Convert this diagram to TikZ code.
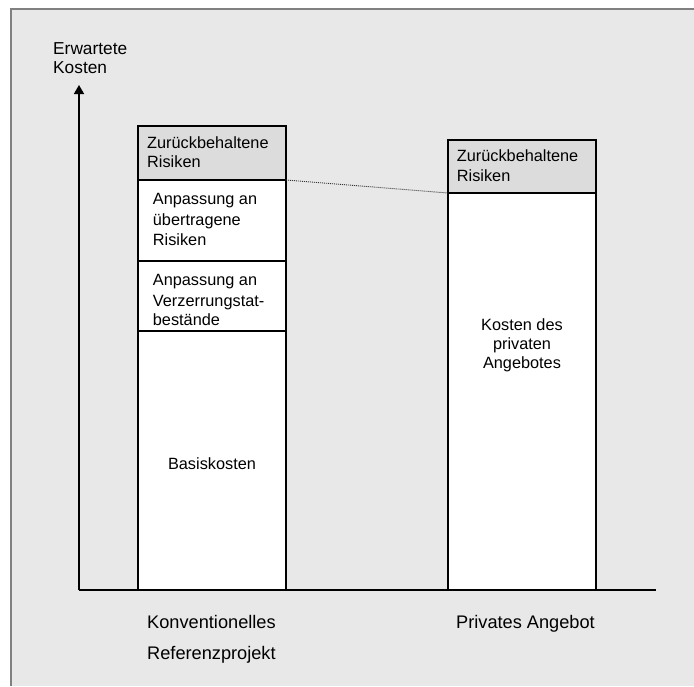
\documentclass[tikz,border=0pt]{standalone}
\usepackage{fontspec}
\setmainfont{Liberation Sans}
\usetikzlibrary{arrows.meta}
\definecolor{bggray}{RGB}{232,232,232}
\definecolor{cellgray}{RGB}{220,220,220}
\definecolor{framegray}{RGB}{128,128,128}
\begin{document}
\begin{tikzpicture}[x=1pt,y=-1pt,
  cell/.style={draw=black, line width=1.3pt, rectangle, inner sep=0pt, outer sep=0pt,
    minimum width=148pt, anchor=north west, fill=white},
  txt/.style={inner sep=0pt, font=\fontsize{16.3}{19}\selectfont, anchor=base west},
  ctxt/.style={inner sep=0pt, font=\fontsize{16.3}{19}\selectfont, anchor=base},
  lbl/.style={inner sep=0pt, font=\fontsize{17.3}{20}\selectfont, anchor=base west},
  blbl/.style={inner sep=0pt, font=\fontsize{18.2}{20}\selectfont, anchor=base west},
  axis/.style={line width=1.6pt, black}]
\useasboundingbox (0,0) rectangle (694,686);
\fill[bggray] (11,9) rectangle (694,686);
\draw[framegray, line width=1.5pt] (11,686) -- (11,9) -- (694,9);
% axes
\coordinate (o) at (79,590);
\coordinate (ytip) at (79,85);
\coordinate (xend) at (656,590);
\draw[axis, -{Triangle[width=10pt,length=9pt]}] (o) -- (ytip);
\draw[axis] (o) -- (xend);
% left bar
\node[cell, fill=cellgray, minimum height=54pt] (l1) at (138,126) {};
\node[cell, minimum height=81pt] (l2) at (138,180) {};
\node[cell, minimum height=70pt] (l3) at (138,261) {};
\node[cell, minimum height=259pt] (l4) at (138,331) {};
% right bar
\node[cell, fill=cellgray, minimum height=53pt] (r1) at (448,140) {};
\node[cell, minimum height=397pt] (r2) at (448,193) {};
% dotted connector
\draw[line width=0.9pt, black!80, dash pattern=on 1pt off 1pt] (l1.south east) -- (r1.south west);
% axis label
\node[lbl] (e1) at (53,54) {Erwartete};
\node[lbl] (e2) at (53,73.5) {Kosten};
% left bar texts
\node[txt] (t1a) at (147,148.3) {Zurückbehaltene};
\node[txt] (t1b) at (147,167.7) {Risiken};
\node[txt] (t2a) at (152.7,204) {Anpassung an};
\node[txt] (t2b) at (152.7,225) {übertragene};
\node[txt] (t2c) at (152.7,245) {Risiken};
\node[txt] (t3a) at (152.7,285.3) {Anpassung an};
\node[txt] (t3b) at (152.7,306) {Verzerrungstat-};
\node[txt] (t3c) at (152.7,325) {bestände};
\node[ctxt] (t4) at (212,469) {Basiskosten};
% right bar texts
\node[txt] (u1a) at (456.7,161.7) {Zurückbehaltene};
\node[txt] (u1b) at (456.7,181) {Risiken};
\node[ctxt] (u2a) at (522,330) {Kosten des};
\node[ctxt] (u2b) at (522,349.3) {privaten};
\node[ctxt] (u2c) at (522,368.3) {Angebotes};
% bottom labels
\node[blbl] (b1) at (147,628.3) {Konventionelles};
\node[blbl] (b2) at (147,659) {Referenzprojekt};
\node[blbl] (b3) at (456,628.3) {Privates Angebot};
\end{tikzpicture}
\end{document}
